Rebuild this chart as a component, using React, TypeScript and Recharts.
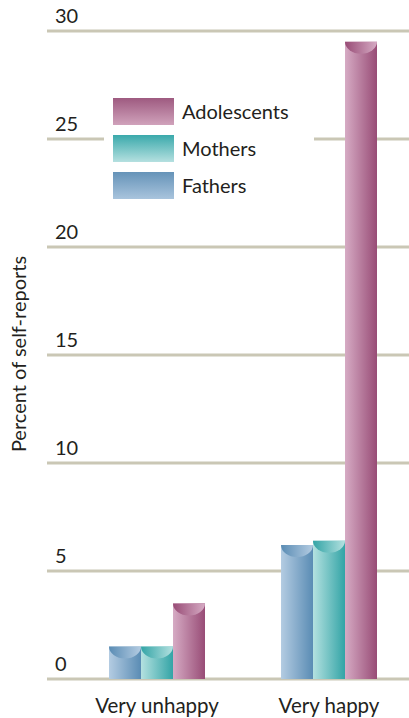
import React from "react";
import {
  BarChart,
  Bar,
  XAxis,
  YAxis,
  CartesianGrid,
} from "recharts";

// Share of self-reports by mood extreme
const categories = ["Very unhappy", "Very happy"];
const fathers = [1.5, 6.2];
const mothers = [1.5, 6.4];
const adolescents = [3.5, 29.5];
const yTicks = [0, 5, 10, 15, 20, 25, 30];

const FONT = "Lato, 'Open Sans', sans-serif";
const TEXT = "#231f20";

const series = [
  { key: "fathers", name: "Fathers", light: "#b4cce2", dark: "#5a8cb4", top: "#6593b8", bottom: "#a9c4dd" },
  { key: "mothers", name: "Mothers", light: "#b4e1e0", dark: "#33a4a6", top: "#3aa9ab", bottom: "#b5e0e0" },
  { key: "adolescents", name: "Adolescents", light: "#d6abc4", dark: "#984c76", top: "#9e5a80", bottom: "#d0a2bb" },
];

const data = categories.map((c, i) => ({
  name: c,
  fathers: fathers[i],
  mothers: mothers[i],
  adolescents: adolescents[i],
}));

// cylinder-like bar: horizontal shaded body with a concave cap at the top
const makeShape = (key: string) => (props: any) => {
  const { x, y, width, height } = props;
  if (!height || height <= 0) return <g />;
  const ry = Math.min(12, height / 2);
  return (
    <g>
      <rect x={x} y={y} width={width} height={height} fill={`url(#body-${key})`} />
      <path
        d={`M ${x} ${y} A ${width / 2} ${ry} 0 0 0 ${x + width} ${y} Z`}
        fill={`url(#cap-${key})`}
      />
    </g>
  );
};

const YTick = (props: any) => {
  const { y, payload } = props;
  return (
    <text x={55} y={y - 8} fontSize={20} fontFamily={FONT} fill={TEXT} textAnchor="start">
      {payload.value}
    </text>
  );
};

const LegendBox = () => (
  <div
    style={{
      position: "absolute",
      left: 104,
      top: 90,
      background: "#fff",
      width: 210,
      height: 116,
      paddingTop: 7,
      paddingLeft: 9,
      boxSizing: "border-box",
    }}
  >
    {[...series].reverse().map((s) => (
      <div key={s.key} style={{ display: "flex", alignItems: "center", height: 28, marginBottom: 9 }}>
        <div
          style={{
            width: 61,
            height: 27,
            background: `linear-gradient(to bottom, ${s.top}, ${s.bottom})`,
          }}
        />
        <span style={{ marginLeft: 8, fontSize: 20, fontFamily: FONT, color: TEXT }}>{s.name}</span>
      </div>
    ))}
  </div>
);

export default function App() {
  return (
    <div style={{ position: "relative", width: 409, height: 718, overflow: "hidden", background: "#fff" }}>
      <style>{`body{margin:0}`}</style>
      <BarChart
        width={415}
        height={718}
        data={data}
        margin={{ top: 31, right: 0, bottom: 0, left: 0 }}
        barSize={32}
        barGap={0}
      >
        <defs>
          {series.map((s) => (
            <React.Fragment key={s.key}>
              <linearGradient id={`body-${s.key}`} x1="0" y1="0" x2="1" y2="0">
                <stop offset="0%" stopColor={s.light} />
                <stop offset="100%" stopColor={s.dark} />
              </linearGradient>
              <linearGradient id={`cap-${s.key}`} x1="0" y1="0" x2="1" y2="0">
                <stop offset="0%" stopColor={s.dark} />
                <stop offset="100%" stopColor={s.light} />
              </linearGradient>
            </React.Fragment>
          ))}
        </defs>
        <CartesianGrid vertical={false} stroke="#cac7b5" strokeWidth={3} />
        <XAxis
          dataKey="name"
          axisLine={false}
          tickLine={false}
          height={39}
          padding={{ left: 24, right: 0 }}
          tick={{ fontSize: 20.5, fontFamily: FONT, fill: TEXT, dy: 11 }}
        />
        <YAxis
          width={47}
          domain={[0, 30]}
          ticks={yTicks}
          axisLine={false}
          tickLine={false}
          tick={<YTick />}
        />
        {series.map((s) => (
          <Bar
            key={s.key}
            dataKey={s.key}
            name={s.name}
            fill={s.dark}
            shape={makeShape(s.key)}
            isAnimationActive={false}
          />
        ))}
      </BarChart>
      <LegendBox />
      <div
        style={{
          position: "absolute",
          left: 18,
          top: 354,
          transform: "translate(-50%, -50%) rotate(-90deg)",
          whiteSpace: "nowrap",
          fontSize: 20,
          fontFamily: FONT,
          color: TEXT,
        }}
      >
        Percent of self-reports
      </div>
    </div>
  );
}
